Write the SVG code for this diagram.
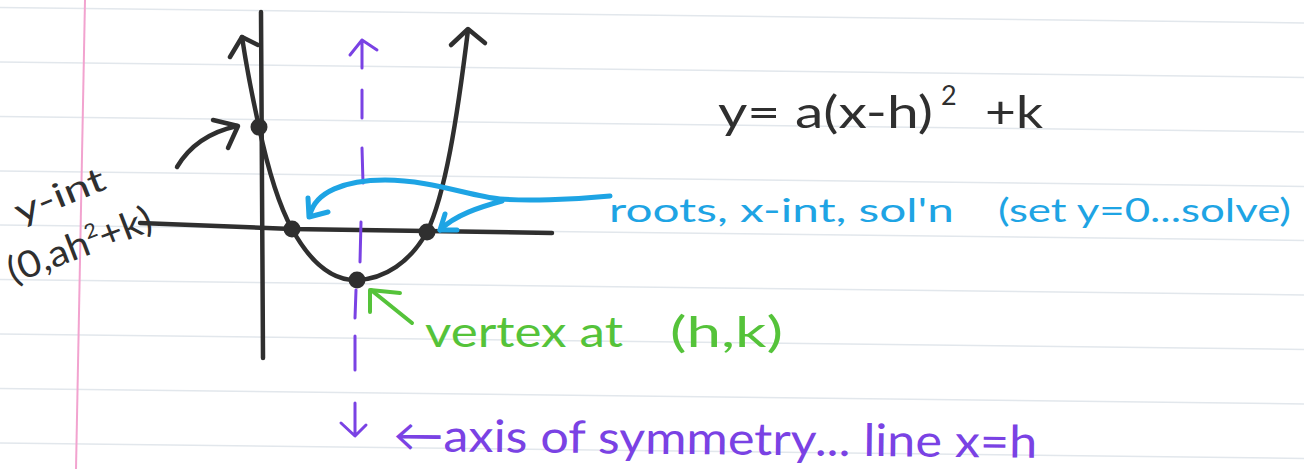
<svg xmlns="http://www.w3.org/2000/svg" width="1304" height="469" viewBox="0 0 1304 469">
<style>
  .rule{stroke:#e2e7ec;stroke-width:1.5;fill:none}
  .margin{stroke:#f2a3cf;stroke-width:2;fill:none}
  .ink{stroke:#2f2f2f;stroke-width:4.5;fill:none;stroke-linecap:round;stroke-linejoin:round}
  .dot{fill:#2f2f2f}
  .blue{stroke:#1ea4e4;stroke-width:5;fill:none;stroke-linecap:round;stroke-linejoin:round}
  .green{stroke:#55c33a;stroke-width:4;fill:none;stroke-linecap:round;stroke-linejoin:round}
  .purple{stroke:#7a42e4;stroke-width:3;fill:none;stroke-linecap:round;stroke-linejoin:round}
  text{font-family:Lato,"Open Sans","DejaVu Sans",sans-serif}
  .t-black{fill:#2f2f2f}
  .t-blue{fill:#1ea4e4}
  .t-green{fill:#55c33a}
  .t-purple{fill:#7a42e4}
</style>
<rect width="1304" height="469" fill="#ffffff"/>
<g id="paper">
  <path class="rule" d="M0,7.5 L1304,23"/>
  <path class="rule" d="M0,62 L1304,77.5"/>
  <path class="rule" d="M0,116.5 L1304,132"/>
  <path class="rule" d="M0,171 L1304,186.5"/>
  <path class="rule" d="M0,225 L1304,240.5"/>
  <path class="rule" d="M0,279.5 L1304,295"/>
  <path class="rule" d="M0,334 L1304,349.5"/>
  <path class="rule" d="M0,388.5 L1304,404"/>
  <path class="rule" d="M0,443 L1304,458.5"/>
  <path class="margin" d="M85,0 L76,469"/>
</g>
<g id="graph">
  <path id="y-axis" class="ink" d="M261,12 L263,358"/>
  <path id="x-axis" class="ink" d="M140,223 L292,229 L552,233"/>
  <path id="parabola" class="ink" d="M242,37 C247,70 253,100 259,127 C266,160 276,200 292,229 C308,258 330,281 357,280 C385,279 410,262 427,232 C445,195 457,120 468,30"/>
  <path class="ink" d="M230,57 L242,37 L258,45"/>
  <path class="ink" d="M451,45 L468,29 L485,43"/>
</g>
<g id="points">
  <circle id="y-intercept" class="dot" cx="259" cy="127" r="8.5"/>
  <circle id="root-left" class="dot" cx="292" cy="229" r="8.5"/>
  <circle id="vertex" class="dot" cx="357" cy="280" r="8.5"/>
  <circle id="root-right" class="dot" cx="427" cy="232" r="8.5"/>
</g>
<g id="connectors">
  <g id="axis-of-symmetry">
    <path class="purple" d="M362,40 L362,68 M350,55 L362,40 L377,50"/>
    <path class="purple" d="M362,90 L362,118"/>
    <path class="purple" d="M362,148 L363,183"/>
    <path class="purple" d="M361,222 L360,262"/>
    <path class="purple" d="M356,290 L355,318"/>
    <path class="purple" d="M355,336 L355,370"/>
    <path class="purple" d="M355,403 L355,435 M341,423 L355,436 L366,425"/>
  </g>
  <g id="yint-arrow">
    <path class="ink" d="M177,167 C190,145 210,132 237,126"/>
    <path class="ink" d="M213,120 L238,126 L228,148"/>
  </g>
  <g id="roots-arrows">
    <path class="blue" d="M610,196 C570,200 525,201 500,199 C470,196 430,180 385,180 C345,180 315,192 310,215"/>
    <path class="blue" d="M308,198 L309,217 L328,212"/>
    <path class="blue" d="M502,201 C480,207 455,215 440,230"/>
    <path class="blue" d="M445,214 L440,230 L457,230"/>
  </g>
  <g id="vertex-arrow">
    <path class="green" d="M412,323 L371,290"/>
    <path class="green" d="M370,312 L370,290 L400,293"/>
  </g>
</g>
<g id="equation">
  <text class="t-black" font-size="44" y="128"><tspan x="718" textLength="215" lengthAdjust="spacingAndGlyphs">y= a(x-h)</tspan><tspan x="941" dy="-23" font-size="27">2</tspan><tspan x="985" dy="23" textLength="58" lengthAdjust="spacingAndGlyphs">+k</tspan></text>
</g>
<g id="yint-label">
  <text class="t-black" font-size="34" transform="translate(20,224) rotate(-22)" textLength="95" lengthAdjust="spacingAndGlyphs">y-int</text>
  <text class="t-black" font-size="37" transform="translate(13,284) rotate(-21)" textLength="152" lengthAdjust="spacingAndGlyphs">(0,ah<tspan dy="-15" font-size="20">2</tspan><tspan dy="15">+k)</tspan></text>
</g>
<g id="roots-label">
  <text class="t-blue" font-size="32" y="222"><tspan x="609" textLength="345" lengthAdjust="spacingAndGlyphs">roots, x-int, sol'n</tspan> <tspan x="998" textLength="293" lengthAdjust="spacingAndGlyphs">(set y=0...solve)</tspan></text>
</g>
<g id="vertex-label">
  <text class="t-green" font-size="42" y="347"><tspan x="425" textLength="198" lengthAdjust="spacingAndGlyphs">vertex at</tspan> <tspan x="670" textLength="113" lengthAdjust="spacingAndGlyphs">(h,k)</tspan></text>
</g>
<g id="axis-label">
  <text class="t-purple" font-size="45" x="393" y="451" transform="rotate(0.6 393 451)" textLength="644" lengthAdjust="spacingAndGlyphs">←axis of symmetry... line x=h</text>
</g>
</svg>
